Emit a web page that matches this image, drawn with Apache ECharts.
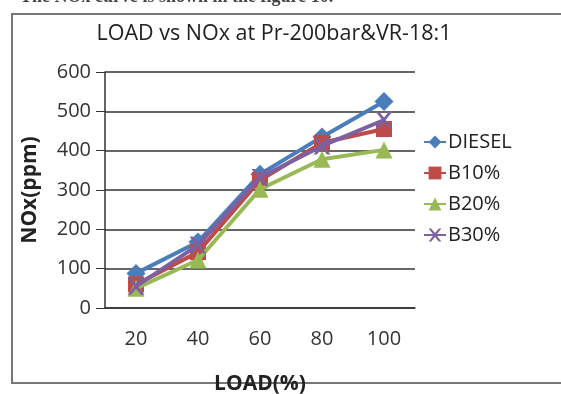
<!DOCTYPE html>
<html><head><meta charset="utf-8">
<script src="https://cdn.jsdelivr.net/npm/echarts@6/dist/echarts.min.js"></script>
<style>html,body{margin:0;padding:0;background:#fff}#c{width:561px;height:394px}</style>
</head><body><div id="c"></div>
<script>
const categories = ['20','40','60','80','100'];
const diesel = [88, 168, 340, 435, 525];
const b10 = [60, 142, 325, 420, 455];
const b20 = [50, 122, 302, 378, 402];
const b30 = [55, 160, 332, 412, 478];
const seriesNames = ['DIESEL','B10%','B20%','B30%'];
const colors = ['#4A7EBB','#BE4B48','#98B954','#7D60A0'];
const xPath = 'path://M0,0 L2,0 L5,3.5 L8,0 L10,0 L6,5 L10,10 L8,10 L5,6.5 L2,10 L0,10 L4,5 Z';
const symbols = ['diamond','rect','triangle', xPath];
const sizes = [19, 16, 17, 17];
const dataSets = [diesel, b10, b20, b30];

const chart = echarts.init(document.getElementById('c'));
const font = 'Open Sans, Liberation Sans, sans-serif';
chart.setOption({
  animation: false,
  title: { text: 'LOAD vs NOx at Pr-200bar&VR-18:1', left: 269, textAlign: 'center', top: 18,
    textStyle: { fontFamily: font, fontSize: 21.5, fontWeight: 'normal', color: '#222' } },
  graphic: [
    { type: 'text', left: 20, top: -12, style: { text: 'The NOx curve is shown in the figure 10.', font: 'bold 18px Liberation Serif, serif', fill: '#444' } },
    { type: 'rect', shape: { x: 12, y: 14, width: 560, height: 369 }, style: { fill: 'none', stroke: '#777', lineWidth: 2 } }
  ],
  legend: { orient: 'vertical', left: 418, top: 127, itemGap: 11, itemWidth: 22, itemHeight: 16,
    textStyle: { fontFamily: font, fontSize: 20, color: '#222', padding: [0,0,0,-3] }, data: seriesNames },
  grid: { left: 105, top: 72, width: 310, height: 236, outerBoundsMode: 'none', containLabel: false },
  xAxis: { type: 'category', data: categories, boundaryGap: true,
    name: 'LOAD(%)', nameLocation: 'middle', nameGap: 66,
    nameTextStyle: { fontFamily: font, fontSize: 21, fontWeight: 'bold', color: '#222' },
    axisLine: { lineStyle: { color: '#333', width: 1.5 } },
    axisTick: { show: false },
    axisLabel: { fontFamily: font, fontSize: 20, color: '#333', margin: 21 } },
  yAxis: { type: 'value', min: 0, max: 600, interval: 100,
    name: 'NOx(ppm)', nameLocation: 'middle', nameGap: 64, nameRotate: 90,
    nameTextStyle: { fontFamily: font, fontSize: 21, fontWeight: 'bold', color: '#222' },
    axisLine: { show: true, lineStyle: { color: '#333', width: 1.5 } },
    axisTick: { show: true, length: 9, lineStyle: { color: '#333' } },
    splitLine: { lineStyle: { color: '#333', width: 1.5 } },
    axisLabel: { fontFamily: font, fontSize: 20, color: '#333', margin: 14 } },
  series: seriesNames.map((n, i) => ({
    name: n, type: 'line', data: dataSets[i], symbol: symbols[i], symbolSize: sizes[i],
    color: colors[i], lineStyle: { width: 4, color: colors[i] },
    itemStyle: { color: colors[i] }, z: 3 + i
  }))
});
</script></body></html>
